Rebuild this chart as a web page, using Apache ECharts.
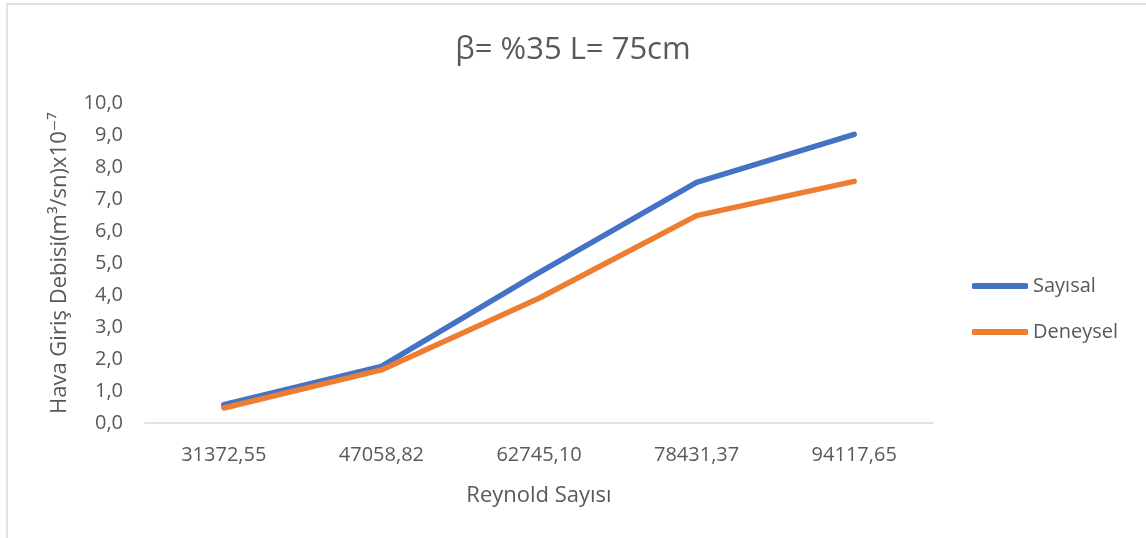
<!DOCTYPE html>
<html>
<head>
<meta charset="utf-8">
<script src="https://cdn.jsdelivr.net/npm/echarts@6/dist/echarts.min.js"></script>
<style>
html,body{margin:0;padding:0;background:#fff;}
#chart{width:1146px;height:538px;}
</style>
</head>
<body>
<div id="chart"></div>
<script>
const categories = ['31372,55', '47058,82', '62745,10', '78431,37', '94117,65'];
const sayisal = [0.57, 1.77, 4.70, 7.52, 9.02];
const deneysel = [0.47, 1.66, 3.90, 6.48, 7.55];
const seriesNames = ['Sayısal', 'Deneysel'];
const seriesColors = ['#4472C4', '#ED7D31'];
const titleText = 'β= %35 L= 75cm';
const xName = 'Reynold Sayısı';
const yName = 'Hava Giriş Debisi(m³/sn)x10⁻⁷';

const FONT = '"Open Sans", "DejaVu Sans", sans-serif';
const TXT = '#595959';
const chart = echarts.init(document.getElementById('chart'));
chart.setOption({
  animation: false,
  backgroundColor: '#ffffff',
  graphic: [{
    type: 'rect',
    shape: {x: 7, y: 4, width: 1160, height: 560},
    style: {fill: 'none', stroke: '#d9d9d9', lineWidth: 1.5},
    silent: true
  }],
  title: {
    text: titleText,
    left: 'center',
    top: 30,
    textStyle: {fontFamily: FONT, fontSize: 31, fontWeight: 'normal', color: TXT}
  },
  legend: {
    orient: 'vertical',
    left: 967,
    top: 271,
    icon: 'roundRect',
    itemWidth: 56,
    itemHeight: 6,
    itemGap: 26,
    textStyle: {fontFamily: FONT, fontSize: 20, color: TXT},
    data: seriesNames.map((n, i) => ({name: n, itemStyle: {color: seriesColors[i]}}))
  },
  grid: {left: 145, right: 213, top: 103, bottom: 115, containLabel: false},
  xAxis: {
    type: 'category',
    data: categories,
    boundaryGap: true,
    axisLine: {lineStyle: {color: '#d9d9d9', width: 1.5}},
    axisTick: {show: false},
    axisLabel: {fontFamily: FONT, fontSize: 20, color: TXT, margin: 22},
    name: xName,
    nameLocation: 'middle',
    nameGap: 62,
    nameTextStyle: {fontFamily: FONT, fontSize: 22, color: TXT}
  },
  yAxis: {
    type: 'value',
    min: 0,
    max: 10,
    interval: 1,
    axisLine: {show: false},
    axisTick: {show: false},
    splitLine: {show: false},
    axisLabel: {
      fontFamily: FONT, fontSize: 20, color: TXT, margin: 22,
      formatter: v => v.toFixed(1).replace('.', ',')
    },
    name: yName,
    nameLocation: 'middle',
    nameGap: 74,
    nameTextStyle: {fontFamily: FONT, fontSize: 22, color: TXT}
  },
  series: [
    {
      name: seriesNames[0], type: 'line', data: sayisal, symbol: 'none',
      lineStyle: {color: seriesColors[0], width: 5.5, cap: 'round', join: 'round'},
      itemStyle: {color: seriesColors[0]}
    },
    {
      name: seriesNames[1], type: 'line', data: deneysel, symbol: 'none',
      lineStyle: {color: seriesColors[1], width: 5.5, cap: 'round', join: 'round'},
      itemStyle: {color: seriesColors[1]}
    }
  ]
});
</script>
</body>
</html>
